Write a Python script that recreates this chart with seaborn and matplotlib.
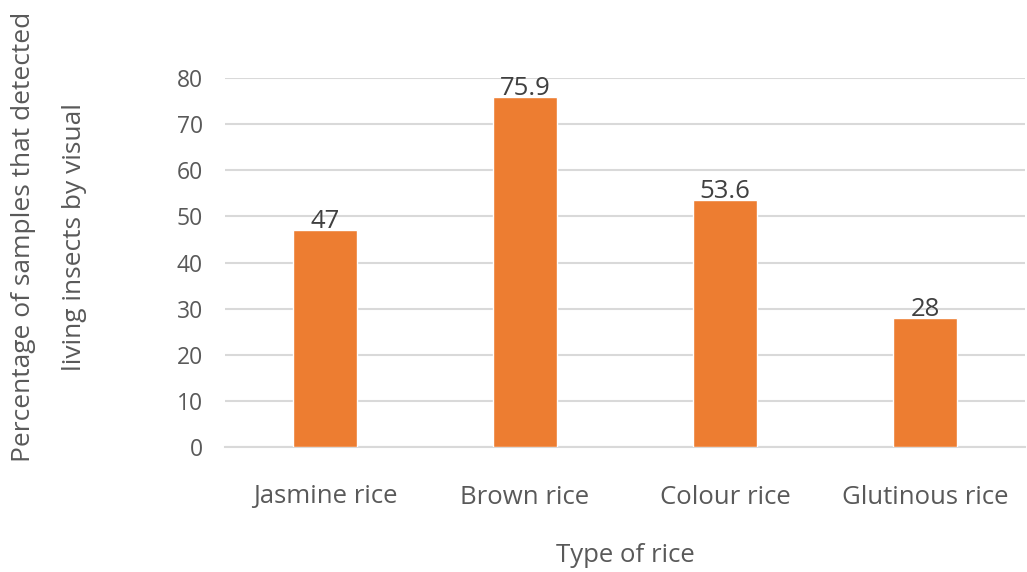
import matplotlib
matplotlib.use("Agg")
import matplotlib.pyplot as plt
import seaborn as sns
import pandas as pd

categories = ["Jasmine rice", "Brown rice", "Colour rice", "Glutinous rice"]
values = [47, 75.9, 53.6, 28]
value_labels = ["47", "75.9", "53.6", "28"]
y_ticks = [0, 10, 20, 30, 40, 50, 60, 70, 80]

sns.set_theme(style="white")
plt.rcParams['font.family'] = ['Open Sans', 'DejaVu Sans']

df = pd.DataFrame({"type": categories, "pct": values})

W, H = 1027, 572
fig = plt.figure(figsize=(W / 100, H / 100), dpi=100)
ax = fig.add_axes([225 / W, 1 - 447 / H, 800 / W, (447 - 78) / H])

sns.barplot(data=df, x="type", y="pct", color="#ED7D31", saturation=1,
            width=0.32, ax=ax, zorder=3)

ax.set_ylim(0, 80)
ax.set_xlim(-0.5, 3.5)
ax.set_yticks(y_ticks)
ax.yaxis.grid(True, color="#D9D9D9", linewidth=1.5, zorder=0)
ax.set_axisbelow(True)
for s in ["top", "right", "left"]:
    ax.spines[s].set_visible(False)
ax.spines["bottom"].set_color("#D9D9D9")
ax.spines["bottom"].set_linewidth(1.5)
ax.tick_params(axis="y", length=0, pad=16, labelsize=16.5, labelcolor="#595959")
ax.tick_params(axis="x", length=0, pad=27, labelsize=18.5, labelcolor="#595959")
ax.set_xlabel("")
ax.set_ylabel("")

for i, (v, lab) in enumerate(zip(values, value_labels)):
    ax.annotate(lab, (i, v), xytext=(0, 1.5), textcoords="offset points",
                ha="center", va="baseline", fontsize=18.5, color="#404040",
                zorder=4)

fig.text(625 / W, 1 - 555 / H, "Type of rice", ha="center", va="center",
         fontsize=18.5, color="#595959")
fig.text(49 / W, 1 - 237 / H,
         "Percentage of samples that detected\nliving insects by visual",
         rotation=90, ha="center", va="center", fontsize=19, color="#595959",
         linespacing=2.35, multialignment="center")

fig.savefig("out.png", dpi=100, facecolor="white")
